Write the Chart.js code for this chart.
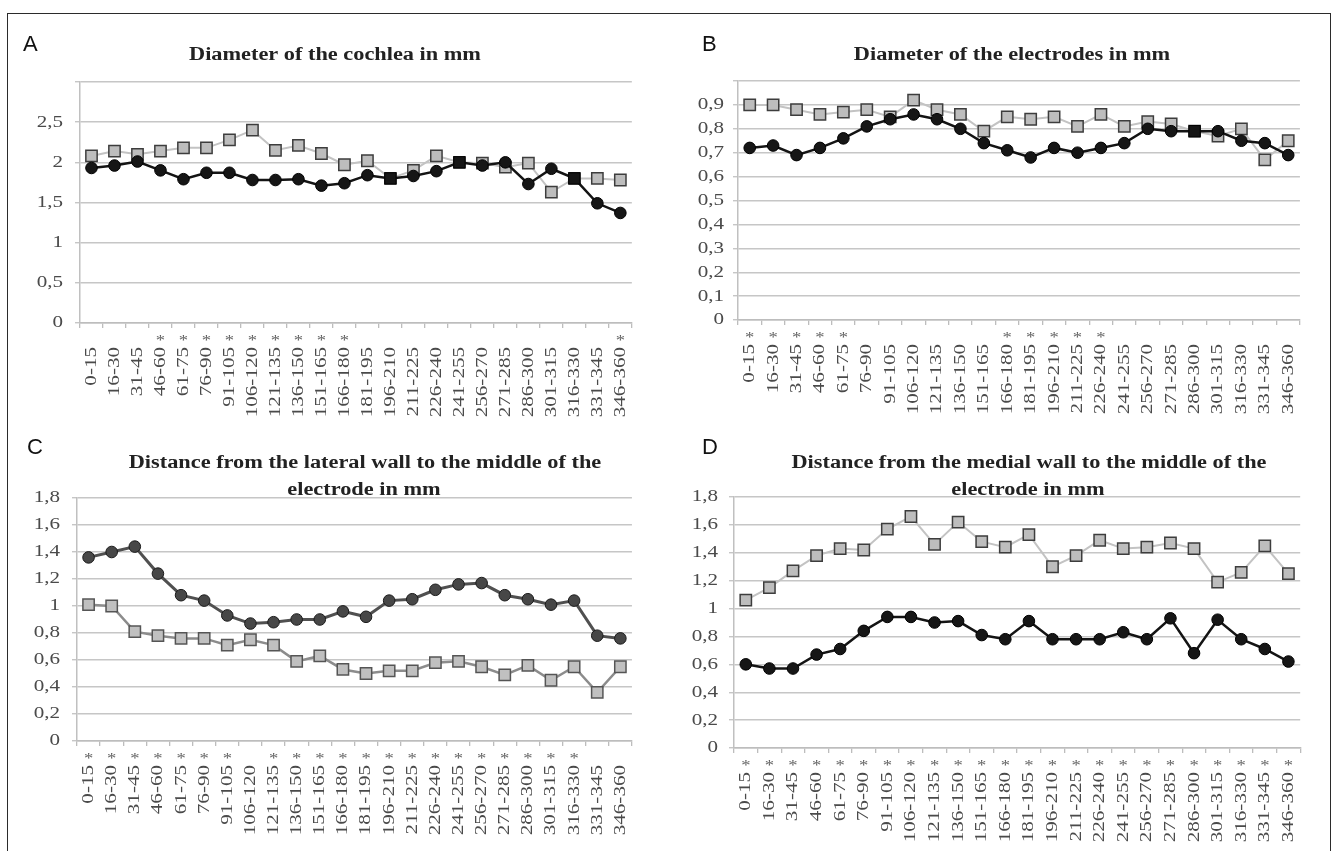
<!DOCTYPE html>
<html>
<head>
<meta charset="utf-8">
<script src="https://cdn.jsdelivr.net/npm/chart.js@4.4.1/dist/chart.umd.min.js"></script>
<style>
  html, body { margin: 0; padding: 0; background: #fff; }
  #fig { position: relative; width: 1336px; height: 851px; overflow: hidden; background: #fff; }
  #frame { position: absolute; left: 7px; top: 13px; width: 1324px; height: 850px;
           border: 1.5px solid #2b2b2b; border-bottom: none; box-sizing: border-box; }
  canvas { position: absolute; }
</style>
</head>
<body>
<div id="fig">
  <div id="frame"></div>
  <canvas id="chartA"></canvas>
  <canvas id="chartB"></canvas>
  <canvas id="chartC"></canvas>
  <canvas id="chartD"></canvas>
</div>
<script>
// Angular sectors along the cochlea (degrees)
const angleBins = ['0-15', '16-30', '31-45', '46-60', '61-75', '76-90', '91-105', '106-120',
  '121-135', '136-150', '151-165', '166-180', '181-195', '196-210', '211-225', '226-240',
  '241-255', '256-270', '271-285', '286-300', '301-315', '316-330', '331-345', '346-360'];

// A – diameter of the cochlea (mm)
const cochleaDark = [1.93, 1.96, 2.01, 1.90, 1.79, 1.87, 1.87, 1.78, 1.78, 1.79, 1.71, 1.74,
  1.84, 1.80, 1.83, 1.89, 2.00, 1.96, 2.00, 1.73, 1.92, 1.80, 1.49, 1.37];
const cochleaGrey = [2.08, 2.14, 2.10, 2.14, 2.18, 2.18, 2.28, 2.40, 2.15, 2.21, 2.11, 1.97,
  2.02, 1.80, 1.90, 2.08, 2.00, 1.99, 1.94, 1.99, 1.63, 1.80, 1.80, 1.78];
const cochleaSignif = [0, 0, 0, 1, 1, 1, 1, 1, 1, 1, 1, 1, 0, 0, 0, 0, 0, 0, 0, 0, 0, 0, 0, 1];

// B – diameter of the electrodes (mm)
const electrodeDark = [0.72, 0.73, 0.69, 0.72, 0.76, 0.81, 0.84, 0.86, 0.84, 0.80, 0.74, 0.71,
  0.68, 0.72, 0.70, 0.72, 0.74, 0.80, 0.79, 0.79, 0.79, 0.75, 0.74, 0.69];
const electrodeGrey = [0.90, 0.90, 0.88, 0.86, 0.87, 0.88, 0.85, 0.92, 0.88, 0.86, 0.79, 0.85,
  0.84, 0.85, 0.81, 0.86, 0.81, 0.83, 0.82, 0.79, 0.77, 0.80, 0.67, 0.75];
const electrodeSignif = [1, 1, 1, 1, 1, 0, 0, 0, 0, 0, 0, 1, 1, 1, 1, 1, 0, 0, 0, 0, 0, 0, 0, 0];

// C – lateral wall to electrode middle (mm)
const lateralDark = [1.36, 1.40, 1.44, 1.24, 1.08, 1.04, 0.93, 0.87, 0.88, 0.90, 0.90, 0.96,
  0.92, 1.04, 1.05, 1.12, 1.16, 1.17, 1.08, 1.05, 1.01, 1.04, 0.78, 0.76];
const lateralGrey = [1.01, 1.00, 0.81, 0.78, 0.76, 0.76, 0.71, 0.75, 0.71, 0.59, 0.63, 0.53,
  0.50, 0.52, 0.52, 0.58, 0.59, 0.55, 0.49, 0.56, 0.45, 0.55, 0.36, 0.55];
const lateralSignif = [1, 1, 1, 1, 1, 1, 1, 0, 1, 1, 1, 1, 1, 1, 1, 1, 1, 1, 1, 1, 1, 1, 0, 0];

// D – medial wall to electrode middle (mm)
const medialDark = [0.60, 0.57, 0.57, 0.67, 0.71, 0.84, 0.94, 0.94, 0.90, 0.91, 0.81, 0.78,
  0.91, 0.78, 0.78, 0.78, 0.83, 0.78, 0.93, 0.68, 0.92, 0.78, 0.71, 0.62];
const medialGrey = [1.06, 1.15, 1.27, 1.38, 1.43, 1.42, 1.57, 1.66, 1.46, 1.62, 1.48, 1.44,
  1.53, 1.30, 1.38, 1.49, 1.43, 1.44, 1.47, 1.43, 1.19, 1.26, 1.45, 1.25];
const medialSignif = new Array(24).fill(1);

const SERIF = "'Liberation Serif', 'Times New Roman', serif";
const TEXT_STRETCH = 1.24;   // wide serif glyphs

// Widen every text run drawn on a chart canvas around its anchor point
const stretchTextPlugin = {
  id: 'stretchText',
  beforeInit(chart) {
    const ctx = chart.ctx;
    if (ctx.__plainFillText) return;
    const plain = CanvasRenderingContext2D.prototype.fillText;
    ctx.__plainFillText = plain;
    ctx.fillText = function (t, x, y, mw) {
      this.save();
      this.translate(x, y);
      this.scale(TEXT_STRETCH, 1);
      if (mw === undefined) plain.call(this, t, 0, 0);
      else plain.call(this, t, 0, 0, mw / TEXT_STRETCH);
      this.restore();
    };
  }
};

// Panel letter, wrapped title and significance asterisks
const panelDecorPlugin = {
  id: 'panelDecor',
  afterDraw(chart, args, o) {
    const ctx = chart.ctx;
    ctx.save();
    // panel letter (plain sans)
    ctx.font = "22px 'Liberation Sans', Arial, sans-serif";
    ctx.fillStyle = '#111';
    ctx.textAlign = 'left';
    ctx.textBaseline = 'middle';
    ctx.__plainFillText.call(ctx, o.letter, o.letterX - o.ox, o.letterY - o.oy);
    // title lines
    ctx.font = 'bold 18px ' + SERIF;
    ctx.fillStyle = '#222';
    ctx.textAlign = 'center';
    ctx.textBaseline = 'middle';
    o.title.forEach(l => ctx.fillText(l.text, l.cx - o.ox, l.cy - o.oy));
    // asterisks above flagged sectors
    const xs = chart.scales.x;
    ctx.font = '15px ' + SERIF;
    ctx.fillStyle = '#5e5e5e';
    ctx.textBaseline = 'alphabetic';
    o.signif.forEach((s, i) => {
      if (!s) return;
      ctx.fillText('*', xs.getPixelForTick(i), xs.top + 22);
    });
    ctx.restore();
  }
};

function fmtTick(v, max, hideMax) {
  if (hideMax && Math.abs(v - max) < 1e-9) return '';
  return String(Math.round(v * 10) / 10).replace('.', ',');
}

function makePanel(p) {
  const el = document.getElementById(p.id);
  const W = p.canvas.w, H = p.canvas.h;
  el.width = W; el.height = H;
  el.style.left = p.canvas.x + 'px';
  el.style.top = p.canvas.y + 'px';
  el.style.width = W + 'px';
  el.style.height = H + 'px';

  const yW = p.plot.l - p.canvas.x;
  const padTop = p.plot.t - p.canvas.y;
  const padRight = p.canvas.x + W - p.plot.r;
  const xH = p.canvas.y + H - p.plot.b;
  const pal = p.palette;
  const same = (i) => Math.abs(p.dark[i] - p.grey[i]) < 0.005;

  new Chart(el, {
    type: 'line',
    data: {
      labels: angleBins,
      datasets: [
        {
          data: p.dark,
          borderColor: pal.darkLine,
          borderWidth: pal.darkLineW,
          pointBackgroundColor: pal.darkFill,
          pointBorderColor: pal.darkEdge,
          pointBorderWidth: 1,
          pointStyle: c => same(c.dataIndex) ? 'rect' : 'circle',
          pointRadius: c => same(c.dataIndex) ? 8 : 5.8,
          tension: 0
        },
        {
          data: p.grey,
          borderColor: pal.greyLine,
          borderWidth: pal.greyLineW,
          pointBackgroundColor: pal.greyFill,
          pointBorderColor: pal.greyEdge,
          pointBorderWidth: 1.5,
          pointStyle: 'rect',
          pointRadius: 8,
          tension: 0
        }
      ]
    },
    options: {
      responsive: false,
      animation: false,
      devicePixelRatio: 1,
      layout: { padding: { top: padTop, right: padRight, left: 0, bottom: 0 } },
      plugins: {
        legend: { display: false },
        tooltip: { enabled: false },
        title: { display: false },
        panelDecor: {
          ox: p.canvas.x, oy: p.canvas.y,
          letter: p.letter, letterX: p.letterX, letterY: p.letterY,
          title: p.title, signif: p.signif
        }
      },
      scales: {
        x: {
          type: 'category',
          offset: true,
          afterFit: s => { s.height = xH; },
          grid: { display: true, drawOnChartArea: false, drawTicks: true, tickLength: 5,
                  offset: true, color: '#bdbdbd', lineWidth: 1.3 },
          border: { display: true, color: '#bdbdbd', width: 1.5 },
          ticks: { autoSkip: false, minRotation: 90, maxRotation: 90, padding: 19,
                   color: '#4a4a4a', font: { family: SERIF, size: 17 } }
        },
        y: {
          min: 0, max: p.yMax,
          afterFit: s => { s.width = yW; },
          grid: { color: '#c6c6c6', lineWidth: 1.4, tickLength: 5, drawTicks: true },
          border: { display: true, color: '#c0c0c0', width: 1.5 },
          ticks: { stepSize: p.yStep, padding: p.yPad, color: '#4a4a4a',
                   font: { family: SERIF, size: 17 },
                   callback: v => fmtTick(v, p.yMax, p.hideMax) }
        }
      }
    },
    plugins: [stretchTextPlugin, panelDecorPlugin]
  });
}

const blackPalette = {
  darkLine: '#141414', darkLineW: 2.5, darkFill: '#161616', darkEdge: '#000',
  greyLine: '#c3c3c3', greyLineW: 2, greyFill: '#bdbdbd', greyEdge: '#3d3d3d'
};
const charcoalPalette = {
  darkLine: '#505050', darkLineW: 3, darkFill: '#474747', darkEdge: '#1a1a1a',
  greyLine: '#8c8c8c', greyLineW: 2.5, greyFill: '#c0c0c0', greyEdge: '#555'
};

makePanel({
  id: 'chartA', canvas: { x: 8, y: 15, w: 652, h: 405 },
  plot: { l: 80, t: 82, r: 648, b: 323 },
  dark: cochleaDark, grey: cochleaGrey, signif: cochleaSignif,
  yMax: 3, yStep: 0.5, hideMax: true, yPad: 12, palette: blackPalette,
  letter: 'A', letterX: 23, letterY: 45,
  title: [{ text: 'Diameter of the cochlea in mm', cx: 335, cy: 55 }]
});
makePanel({
  id: 'chartB', canvas: { x: 664, y: 15, w: 664, h: 405 },
  plot: { l: 738, t: 81, r: 1310, b: 320 },
  dark: electrodeDark, grey: electrodeGrey, signif: electrodeSignif,
  yMax: 1, yStep: 0.1, hideMax: true, yPad: 9, palette: blackPalette,
  letter: 'B', letterX: 702, letterY: 45,
  title: [{ text: 'Diameter of the electrodes in mm', cx: 1012, cy: 55 }]
});
makePanel({
  id: 'chartC', canvas: { x: 8, y: 420, w: 652, h: 430 },
  plot: { l: 77, t: 498, r: 649, b: 741 },
  dark: lateralDark, grey: lateralGrey, signif: lateralSignif,
  yMax: 1.8, yStep: 0.2, hideMax: false, yPad: 12, palette: charcoalPalette,
  letter: 'C', letterX: 27, letterY: 448,
  title: [{ text: 'Distance from the lateral wall to the middle of the', cx: 365, cy: 463 },
          { text: 'electrode in mm', cx: 364, cy: 490 }]
});
makePanel({
  id: 'chartD', canvas: { x: 664, y: 420, w: 664, h: 430 },
  plot: { l: 734, t: 497, r: 1321, b: 748 },
  dark: medialDark, grey: medialGrey, signif: medialSignif,
  yMax: 1.8, yStep: 0.2, hideMax: false, yPad: 11, palette: blackPalette,
  letter: 'D', letterX: 702, letterY: 448,
  title: [{ text: 'Distance from the medial wall to the middle of the', cx: 1029, cy: 463 },
          { text: 'electrode in mm', cx: 1028, cy: 490 }]
});
</script>
</body>
</html>
